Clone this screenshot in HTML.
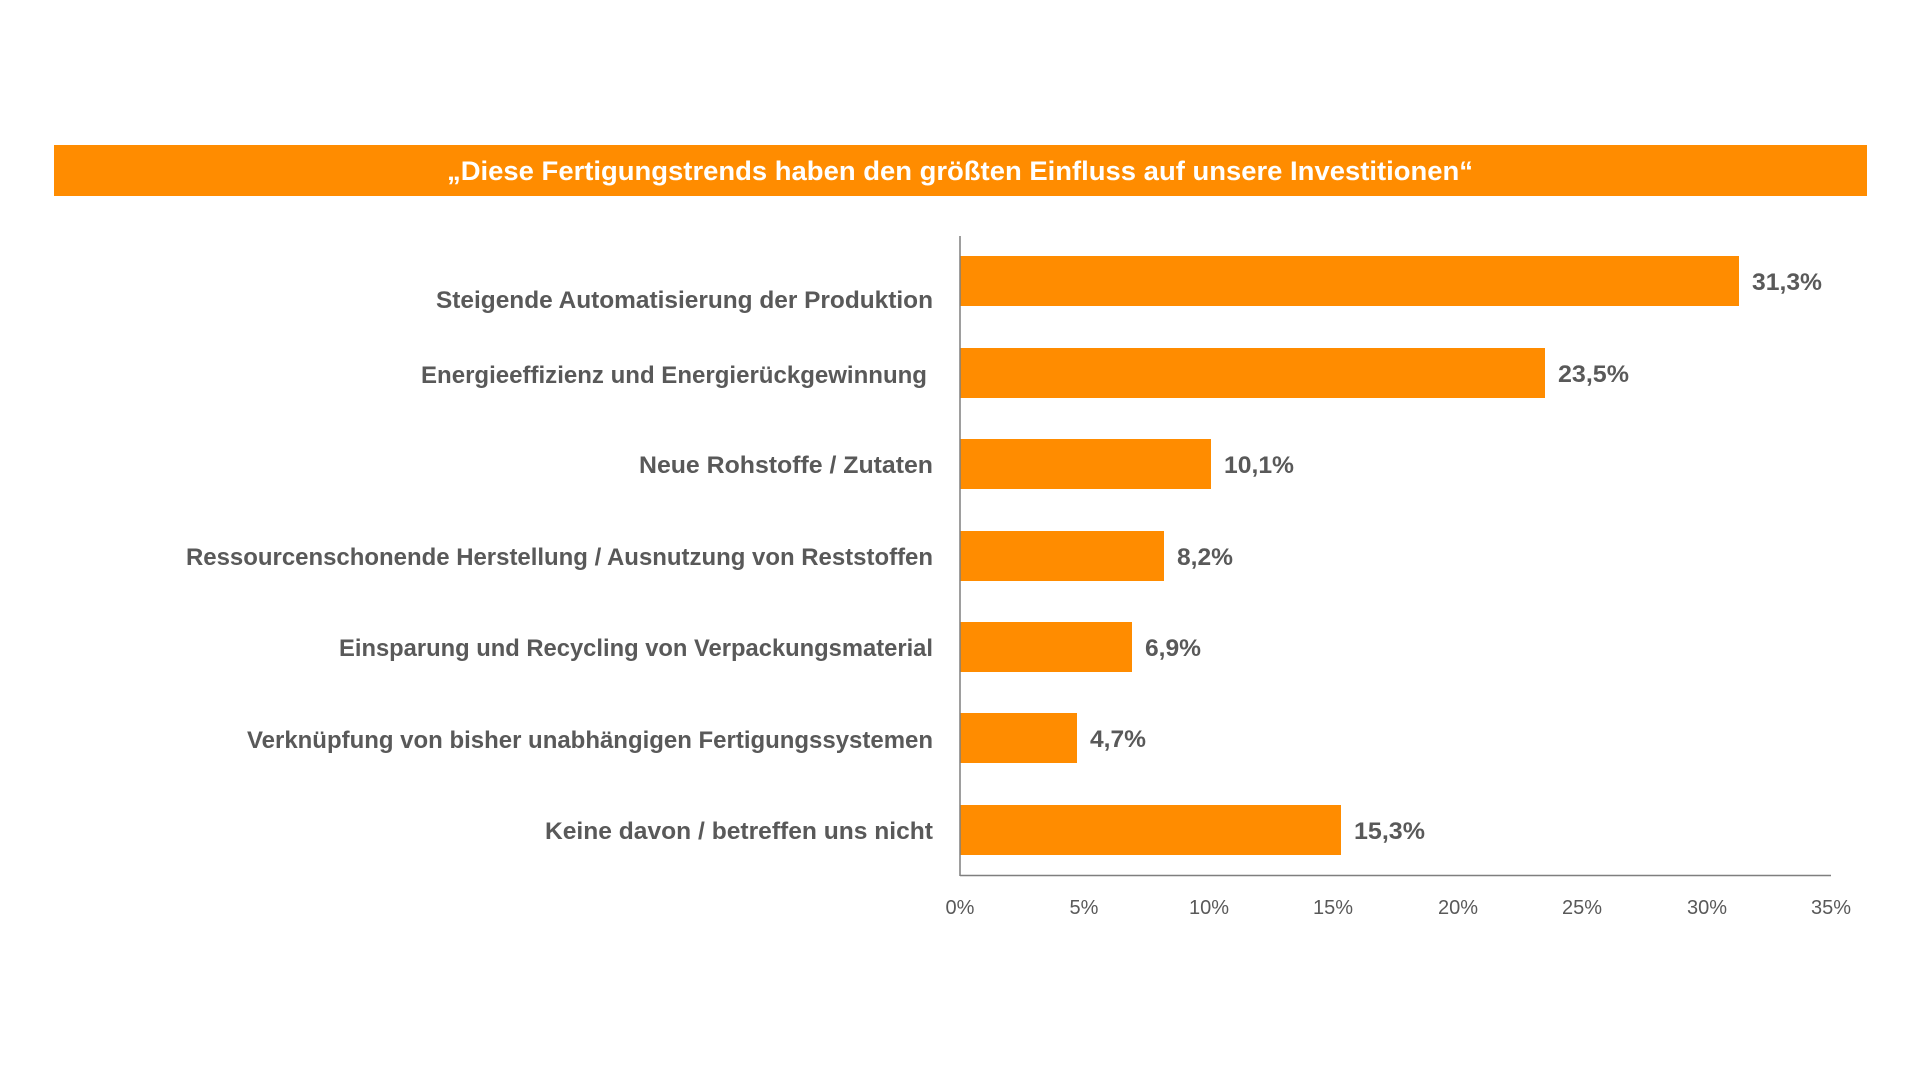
<!DOCTYPE html>
<html><head><meta charset="utf-8"><style>
html,body{margin:0;padding:0;background:#fff;}
svg{display:block;}
text{font-family:"Liberation Sans",sans-serif;}
</style></head><body>
<svg width="1920" height="1080" viewBox="0 0 1920 1080" xmlns="http://www.w3.org/2000/svg">
<rect x="54" y="145" width="1813" height="51" fill="#FF8C00"/>
<text x="960" y="180" text-anchor="middle" fill="#fff" font-size="27" font-weight="bold" textLength="1026" lengthAdjust="spacingAndGlyphs">„Diese Fertigungstrends haben den größten Einfluss auf unsere Investitionen“</text>
<g fill="#FF8C00">
<rect x="960" y="256" width="779" height="50"/>
<rect x="960" y="348" width="585" height="50"/>
<rect x="960" y="439" width="251" height="50"/>
<rect x="960" y="531" width="204" height="50"/>
<rect x="960" y="622" width="172" height="50"/>
<rect x="960" y="713" width="117" height="50"/>
<rect x="960" y="805" width="381" height="50"/>
</g>
<line x1="960" y1="236" x2="960" y2="876" stroke="#7f7f7f" stroke-width="1.5"/>
<line x1="960" y1="875.5" x2="1831" y2="875.5" stroke="#7f7f7f" stroke-width="1.5"/>
<g fill="#595959" font-size="24" font-weight="bold" text-anchor="end">
<text x="933" y="308" textLength="497" lengthAdjust="spacingAndGlyphs">Steigende Automatisierung der Produktion</text>
<text x="927" y="383" textLength="506" lengthAdjust="spacingAndGlyphs">Energieeffizienz und Energierückgewinnung</text>
<text x="933" y="473" textLength="294" lengthAdjust="spacingAndGlyphs">Neue Rohstoffe / Zutaten</text>
<text x="933" y="565" textLength="747" lengthAdjust="spacingAndGlyphs">Ressourcenschonende Herstellung / Ausnutzung von Reststoffen</text>
<text x="933" y="656" textLength="594" lengthAdjust="spacingAndGlyphs">Einsparung und Recycling von Verpackungsmaterial</text>
<text x="933" y="748" textLength="686" lengthAdjust="spacingAndGlyphs">Verknüpfung von bisher unabhängigen Fertigungssystemen</text>
<text x="933" y="839" textLength="388" lengthAdjust="spacingAndGlyphs">Keine davon / betreffen uns nicht</text>
</g>
<g fill="#595959" font-size="24" font-weight="bold">
<text x="1752" y="290" textLength="70" lengthAdjust="spacingAndGlyphs">31,3%</text>
<text x="1558" y="382" textLength="71" lengthAdjust="spacingAndGlyphs">23,5%</text>
<text x="1224" y="473" textLength="70" lengthAdjust="spacingAndGlyphs">10,1%</text>
<text x="1177" y="565" textLength="56" lengthAdjust="spacingAndGlyphs">8,2%</text>
<text x="1145" y="656" textLength="56" lengthAdjust="spacingAndGlyphs">6,9%</text>
<text x="1090" y="747" textLength="56" lengthAdjust="spacingAndGlyphs">4,7%</text>
<text x="1354" y="839" textLength="71" lengthAdjust="spacingAndGlyphs">15,3%</text>
</g>
<g fill="#595959" font-size="20" text-anchor="middle">
<text x="960" y="914">0%</text>
<text x="1084" y="914">5%</text>
<text x="1209" y="914">10%</text>
<text x="1333" y="914">15%</text>
<text x="1458" y="914">20%</text>
<text x="1582" y="914">25%</text>
<text x="1707" y="914">30%</text>
<text x="1831" y="914">35%</text>
</g>
</svg>
</body></html>
